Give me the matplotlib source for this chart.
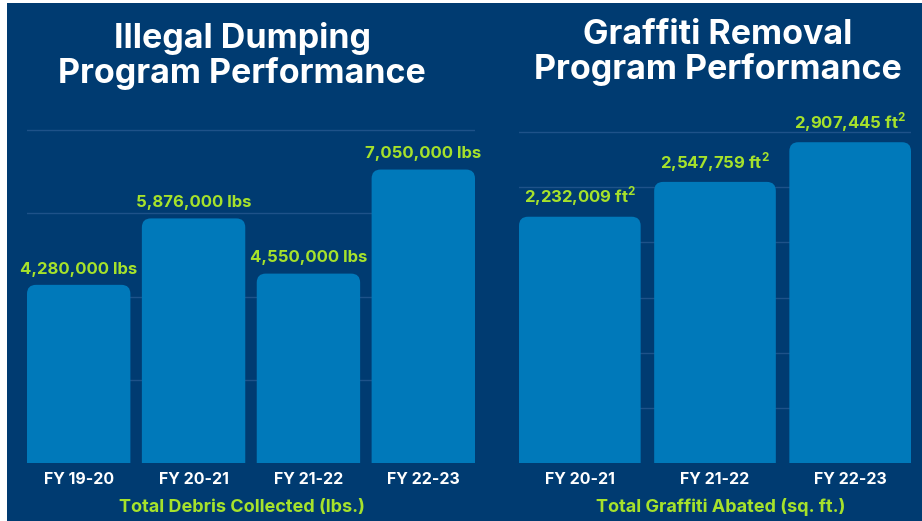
import matplotlib
matplotlib.use("Agg")
import matplotlib.pyplot as plt
from matplotlib.patches import FancyBboxPatch, Rectangle

# ---- data ----
dump_cats = ["FY 19-20", "FY 20-21", "FY 21-22", "FY 22-23"]
dump_vals = [4280000, 5876000, 4550000, 7050000]
dump_labels = ["4,280,000 lbs", "5,876,000 lbs", "4,550,000 lbs", "7,050,000 lbs"]
graf_cats = ["FY 20-21", "FY 21-22", "FY 22-23"]
graf_vals = [2232009, 2547759, 2907445]
graf_labels = ["2,232,009", "2,547,759", "2,907,445"]
dump_ticks = [2000000, 4000000, 6000000, 8000000]
graf_ticks = [500000, 1000000, 1500000, 2000000, 2500000, 3000000]

NAVY = "#003B71"
BAR = "#0079BA"
GREEN = "#A6E22B"
GRID = "#1E5289"
FONT = "Inter"

plt.rcParams["font.family"] = [FONT, "DejaVu Sans"]
plt.rcParams["mathtext.fontset"] = "custom"
plt.rcParams["mathtext.rm"] = FONT
plt.rcParams["mathtext.bf"] = FONT + ":bold"

W, H = 922, 521
fig = plt.figure(figsize=(W / 100, H / 100), dpi=100)
fig.patch.set_facecolor("white")
fig.add_artist(Rectangle((7 / W, 0), 1, 1 - 3 / H, transform=fig.transFigure,
                         facecolor=NAVY, edgecolor="none", zorder=0))


def px_box(x0, x1, y_bottom, y_top):
    return [x0 / W, 1 - y_bottom / H, (x1 - x0) / W, (y_bottom - y_top) / H]


def panel(rect, cats, vals, ticks, ymax, labels, sup):
    ax = fig.add_axes(rect)
    ax.set_facecolor("none")
    n = len(cats)
    ax.set_xlim(-0.45, n - 0.55)
    ax.set_ylim(0, ymax)
    for s in ax.spines.values():
        s.set_visible(False)
    ax.set_yticks(ticks)
    ax.tick_params(axis="y", left=False, labelleft=False)
    ax.tick_params(axis="x", bottom=False, pad=3, labelsize=11.5, labelcolor="white")
    ax.set_xticks(range(n))
    ax.set_xticklabels(cats, fontweight="bold")
    for t in ticks:
        ax.axhline(t, color=GRID, lw=1.0, zorder=1)
    # scale for rounded corners
    bb = ax.get_window_extent()
    xpp = (n - 0.1) / bb.width
    ypp = ymax / bb.height
    aspect = ypp / xpp
    r = 9 * xpp
    wbar = 0.9
    for i, v in enumerate(vals):
        p = FancyBboxPatch((i - wbar / 2, -r * aspect * 2), wbar, v + r * aspect * 2,
                           boxstyle=f"round,pad=0,rounding_size={r}",
                           mutation_aspect=aspect, facecolor=BAR,
                           edgecolor="none", zorder=2)
        ax.add_patch(p)
        txt = labels[i] + (r" ft$^{\mathbf{2}}$" if sup else "")
        ax.annotate(txt, (i, v), xytext=(0, 6), textcoords="offset points",
                    ha="center", va="bottom", color=GREEN, fontsize=12,
                    fontweight="bold", zorder=3)
    return ax


ax1 = panel(px_box(27, 475, 463, 120), dump_cats, dump_vals, dump_ticks,
            8000000 * 343 / 333, dump_labels, False)
ax2 = panel(px_box(519, 911, 463, 120), graf_cats, graf_vals, graf_ticks,
            3000000 * 343 / 331, graf_labels, True)

# titles
tkw = dict(ha="center", va="baseline", color="white", fontsize=24.5, fontweight="bold")
fig.text(242 / W, 1 - 48 / H, "Illegal Dumping", **tkw)
fig.text(242 / W, 1 - 83 / H, "Program Performance", **tkw)
fig.text(718 / W, 1 - 44 / H, "Graffiti Removal", **tkw)
fig.text(718 / W, 1 - 79 / H, "Program Performance", **tkw)

# axis captions
ckw = dict(ha="center", va="center", color=GREEN, fontsize=13, fontweight="bold")
fig.text(242 / W, 1 - 507 / H, "Total Debris Collected (lbs.)", **ckw)
fig.text(721 / W, 1 - 507 / H, "Total Graffiti Abated (sq. ft.)", **ckw)

fig.savefig("out.png", dpi=100, facecolor=fig.get_facecolor())
